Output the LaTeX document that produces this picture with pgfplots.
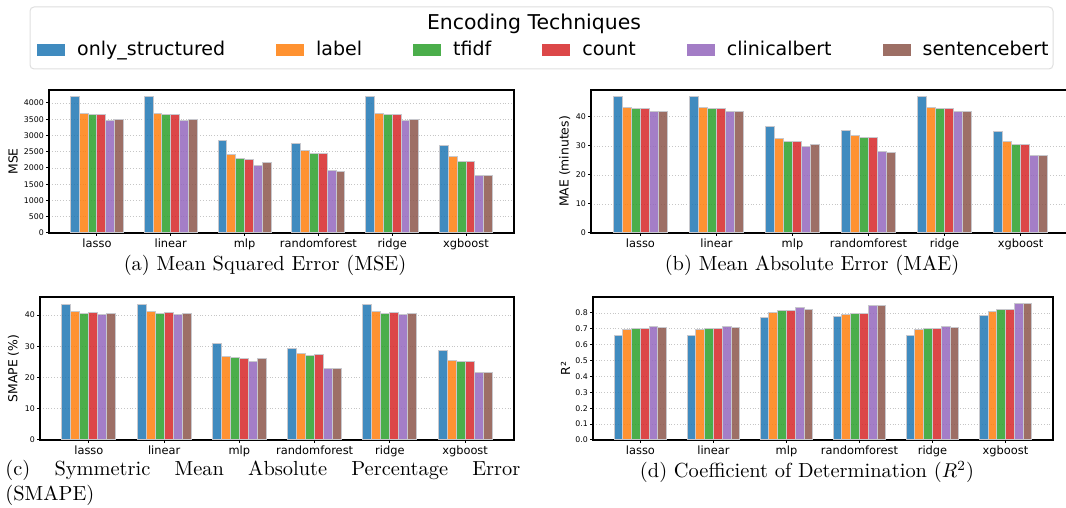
\documentclass[border=0pt]{standalone}
\usepackage{fontspec}
\usepackage{pgfplots}
\usepackage{pgfplotstable}
\pgfplotsset{compat=1.18}
\newfontfamily\dv{DejaVu Sans}
\definecolor{cOS}{RGB}{31,119,180}
\definecolor{cLA}{RGB}{255,127,14}
\definecolor{cTF}{RGB}{44,160,44}
\definecolor{cCO}{RGB}{214,39,40}
\definecolor{cCB}{RGB}{148,103,189}
\definecolor{cSB}{RGB}{140,86,75}
\definecolor{edgec}{RGB}{200,200,205}

\pgfplotstableread{
x os lab tf cnt cb sb
0 4190 3685 3655 3650 3470 3500
1 4190 3685 3660 3650 3470 3505
2 2835 2425 2280 2275 2065 2175
3 2740 2525 2455 2455 1925 1905
4 4190 3685 3655 3650 3470 3500
5 2680 2340 2210 2210 1770 1770
}\mse
\pgfplotstableread{
x os lab tf cnt cb sb
0 46.9 43.2 42.8 42.8 41.7 41.9
1 46.9 43.2 42.8 42.8 41.7 41.9
2 36.7 32.4 31.6 31.5 29.8 30.6
3 35.3 33.5 32.8 32.9 28.0 27.7
4 46.9 43.2 42.8 42.8 41.7 41.9
5 35.0 31.5 30.6 30.6 26.6 26.6
}\mae
\pgfplotstableread{
x os lab tf cnt cb sb
0 43.5 41.1 40.6 40.7 40.1 40.4
1 43.5 41.1 40.6 40.7 40.1 40.4
2 30.8 26.8 26.3 26.2 25.1 26.2
3 29.3 27.8 27.2 27.3 23.0 22.8
4 43.5 41.1 40.6 40.7 40.1 40.4
5 28.8 25.6 25.0 25.0 21.7 21.6
}\smape
\pgfplotstableread{
x os lab tf cnt cb sb
0 0.655 0.697 0.699 0.699 0.713 0.711
1 0.655 0.697 0.699 0.699 0.713 0.711
2 0.768 0.802 0.814 0.814 0.834 0.822
3 0.776 0.793 0.799 0.799 0.844 0.846
4 0.655 0.697 0.699 0.699 0.713 0.711
5 0.781 0.808 0.819 0.819 0.859 0.857
}\rtwo

\pgfplotsset{
  panel/.style={
    scale only axis, height=71.5pt, anchor=south west,
    xmin=-0.65, xmax=5.65, ymin=0,
    xtick={0,1,2,3,4,5},
    xticklabels={lasso,linear,mlp,randomforest,ridge,xgboost},
    tick pos=left, tick align=outside, major tick length=1.4pt,
    tick style={black, line width=0.5pt},
    axis line style={black, line width=0.6pt},
    ymajorgrids, major grid style={densely dotted, gray!45, line width=0.3pt},
    /pgf/number format/assume math mode=true,
    /pgf/number format/1000 sep={},
    yticklabel style={font=\dv\fontsize{3.9}{4.5}\selectfont, inner sep=1pt},
    xticklabel style={font=\dv\fontsize{5.7}{6.5}\selectfont, inner sep=1.5pt},
    ylabel style={font=\dv\fontsize{6.2}{7}\selectfont, anchor=center},
    clip=false,
  },
  bs/.style={ybar, bar width=0.12, draw=edgec, line width=0.5pt, fill opacity=0.85},
}
\newcommand{\bars}[1]{%
  \addplot[bs, fill=cOS, bar shift=-0.3] table[x=x,y=os]{#1};
  \addplot[bs, fill=cLA, bar shift=-0.18] table[x=x,y=lab]{#1};
  \addplot[bs, fill=cTF, bar shift=-0.06] table[x=x,y=tf]{#1};
  \addplot[bs, fill=cCO, bar shift=0.06] table[x=x,y=cnt]{#1};
  \addplot[bs, fill=cCB, bar shift=0.18] table[x=x,y=cb]{#1};
  \addplot[bs, fill=cSB, bar shift=0.3] table[x=x,y=sb]{#1};
}
\newcommand{\gap}{\rule{19.5pt}{0pt}}

\begin{document}
\begin{tikzpicture}
\useasboundingbox (0,0) rectangle (533pt,254pt);
\clip (0,0) rectangle (533pt,254pt);

% legend frame and title
\draw[gray!25, line width=0.5pt, rounded corners=2pt, fill=white] (15pt,219.5pt) rectangle (526.5pt,250.5pt);
\node[font=\dv\fontsize{10.2}{12}\selectfont] at (267pt,242pt) {Encoding Techniques};

% (a)
\begin{axis}[panel, at={(24.5pt,137.5pt)}, width=232.5pt,
  ymax=4400, ytick={0,500,...,4000}, ylabel={MSE},
  ylabel style={at={(axis description cs:-0.077,0.5)}},
  legend columns=6,
  legend style={draw=none, fill=none, at={(axis description cs:1.0665,1.28)}, anchor=center,
    font=\dv\fontsize{9.5}{11}\selectfont, column sep=4pt},
  legend cell align=left,
  legend image code/.code={\fill[#1,draw=none,fill opacity=0.85] (0pt,-2.8pt) rectangle (14pt,2.8pt);},
]
\bars{\mse}
\legend{only\_structured\gap,label\gap,tfidf\gap,count\gap,clinicalbert\gap,sentencebert}
\end{axis}

% (b)
\begin{axis}[panel, at={(295.5pt,137.5pt)}, width=239.5pt,
  ymax=49.2, ytick={0,10,...,40}, ylabel={MAE (minutes)},
  ylabel style={at={(axis description cs:-0.055,0.5)}},
]
\bars{\mae}
\end{axis}

% (c)
\begin{axis}[panel, at={(20pt,34pt)}, width=237pt,
  ymax=45.8, ytick={0,10,...,40}, ylabel={SMAPE (\%)},
  ylabel style={at={(axis description cs:-0.056,0.5)}},
]
\bars{\smape}
\end{axis}

% (d)
\begin{axis}[panel, at={(296.5pt,34pt)}, width=230pt,
  ymax=0.90, ytick={0,0.1,...,0.8}, ylabel={R²},
  ylabel style={at={(axis description cs:-0.06,0.5)}},
  yticklabel style={/pgf/number format/.cd, fixed, fixed zerofill, precision=1},
]
\bars{\rtwo}
\end{axis}

% captions
\node[font=\fontsize{10.2}{12}\selectfont] at (132.5pt,121.5pt) {(a) Mean Squared Error (MSE)};
\node[font=\fontsize{10.2}{12}\selectfont] at (406pt,121.5pt) {(b) Mean Absolute Error (MAE)};
\node[font=\fontsize{10.2}{12.5}\selectfont, anchor=north west, text width=257.5pt, align=justify, inner sep=0pt] at (2.5pt,24pt) {(c) Symmetric Mean Absolute Percentage Error\linebreak (SMAPE)};
\node[font=\fontsize{10.2}{12}\selectfont] at (403.5pt,18pt) {(d) Coefficient of Determination ($R^2$)};
\end{tikzpicture}
\end{document}
